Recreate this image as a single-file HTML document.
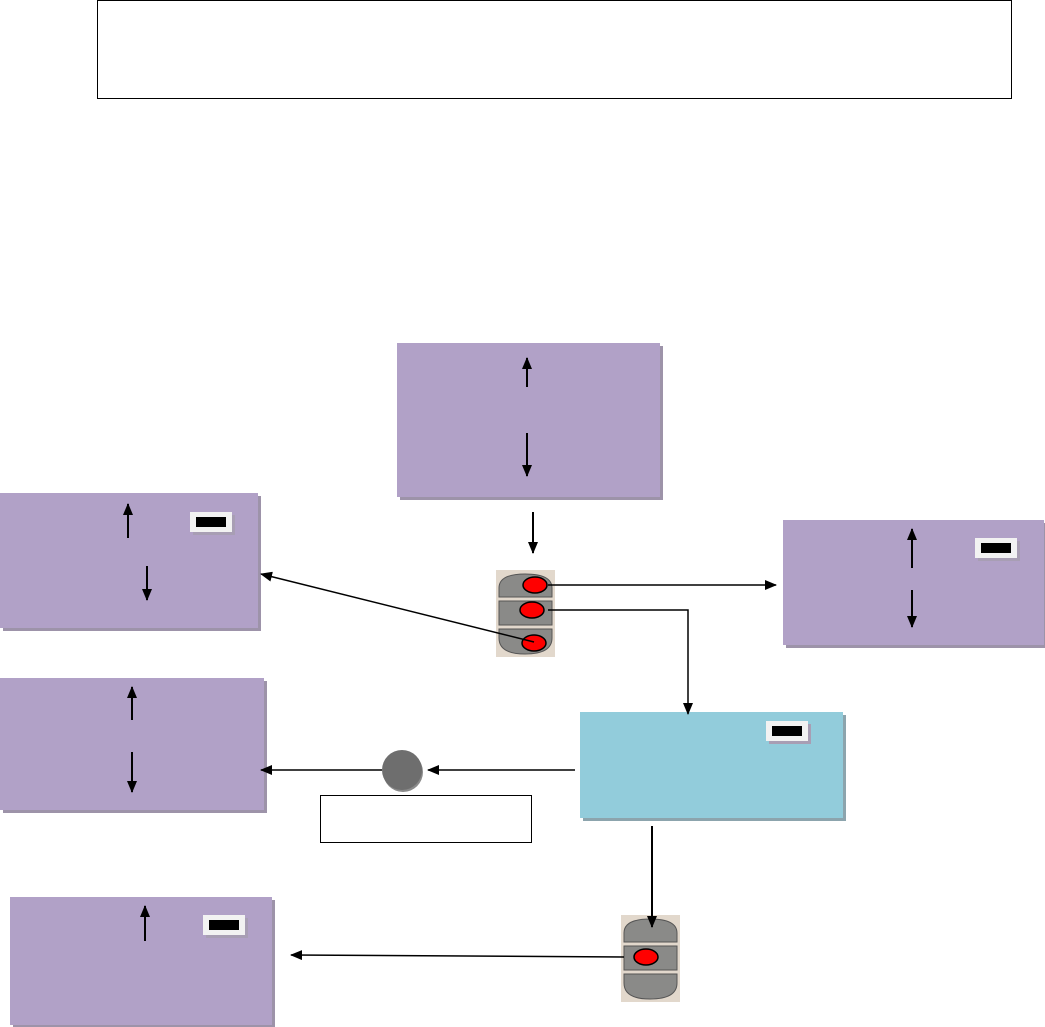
<!DOCTYPE html>
<html><head><meta charset="utf-8"><style>
html,body{margin:0;padding:0;background:#fff;}
svg{display:block;}
</style></head><body>
<svg width="1045" height="1027" viewBox="0 0 1045 1027" xmlns="http://www.w3.org/2000/svg">
<defs>
<marker id="ah" markerWidth="12" markerHeight="10" refX="11" refY="5" orient="auto" markerUnits="userSpaceOnUse">
<path d="M0,0 L12,5 L0,10 Z" fill="#000"/></marker>
<g id="btn"><rect x="3" y="3" width="42" height="20" fill="#a89eb4"/><rect x="0" y="0" width="42" height="20" fill="#f2f2f2"/><rect x="6" y="5" width="30" height="10" fill="#000"/></g>
<g id="rem3">
<rect x="0" y="0" width="59" height="87" fill="#e2d8cc"/>
<path d="M3,27 L3,18 Q3,4 29,4 Q56,4 56,18 L56,27 Z" fill="#8a8a88" stroke="#555" stroke-width="1"/>
<rect x="3" y="31" width="53" height="24" fill="#8a8a88" stroke="#555" stroke-width="1"/>
<path d="M3,59 L56,59 L56,68 Q56,84 29,84 Q3,84 3,68 Z" fill="#8a8a88" stroke="#555" stroke-width="1"/>
</g>
</defs>
<rect x="97.5" y="0.5" width="914" height="98" fill="none" stroke="#000" stroke-width="1"/>

<rect x="400" y="346" width="263" height="154" fill="#9d93a9"/>
<rect x="397" y="343" width="263" height="154" fill="#b1a1c7"/>
<line x1="527" y1="387" x2="527" y2="358" stroke="#000" stroke-width="2" marker-end="url(#ah)"/>
<line x1="527" y1="433" x2="527" y2="476" stroke="#000" stroke-width="2" marker-end="url(#ah)"/>

<rect x="3" y="496" width="258" height="135" fill="#9d93a9"/>
<rect x="0" y="493" width="258" height="135" fill="#b1a1c7"/>
<line x1="128" y1="538" x2="128" y2="504" stroke="#000" stroke-width="2" marker-end="url(#ah)"/>
<line x1="147" y1="566" x2="147" y2="600" stroke="#000" stroke-width="2" marker-end="url(#ah)"/>
<use href="#btn" x="190" y="512"/>

<rect x="786" y="523" width="259" height="125" fill="#9d93a9"/>
<rect x="783" y="520" width="261" height="125" fill="#b1a1c7"/>
<line x1="912" y1="568" x2="912" y2="529" stroke="#000" stroke-width="2" marker-end="url(#ah)"/>
<line x1="912" y1="590" x2="912" y2="627" stroke="#000" stroke-width="2" marker-end="url(#ah)"/>
<use href="#btn" x="975" y="538"/>

<rect x="3" y="681" width="264" height="132" fill="#9d93a9"/>
<rect x="0" y="678" width="264" height="132" fill="#b1a1c7"/>
<line x1="132" y1="720" x2="132" y2="687" stroke="#000" stroke-width="2" marker-end="url(#ah)"/>
<line x1="132" y1="752" x2="132" y2="792" stroke="#000" stroke-width="2" marker-end="url(#ah)"/>

<rect x="13" y="900" width="262" height="127" fill="#9d93a9"/>
<rect x="10" y="897" width="262" height="128" fill="#b1a1c7"/>
<line x1="145" y1="941" x2="145" y2="906" stroke="#000" stroke-width="2" marker-end="url(#ah)"/>
<use href="#btn" x="203" y="915"/>

<rect x="583" y="715" width="263" height="106" fill="#8ca4ad"/>
<rect x="580" y="712" width="263" height="106" fill="#92ccdb"/>
<use href="#btn" x="766" y="721"/>

<use href="#rem3" x="496" y="570"/>
<ellipse cx="535" cy="585" rx="12" ry="8" fill="#f00" stroke="#000" stroke-width="1.5"/>
<ellipse cx="532" cy="610" rx="12" ry="8" fill="#f00" stroke="#000" stroke-width="1.5"/>
<ellipse cx="534" cy="643" rx="12" ry="8" fill="#f00" stroke="#000" stroke-width="1.5"/>

<use href="#rem3" x="621" y="915"/>
<ellipse cx="646" cy="957" rx="12" ry="8" fill="#f00" stroke="#000" stroke-width="1.5"/>

<circle cx="403" cy="772" r="20" fill="#8a8a8a"/>
<circle cx="402" cy="770" r="20" fill="#6e6e6e"/>
<rect x="320.5" y="795.5" width="211" height="47" fill="#fff" stroke="#000" stroke-width="1"/>

<line x1="533" y1="512" x2="533" y2="553" stroke="#000" stroke-width="2" marker-end="url(#ah)"/>
<line x1="548" y1="585" x2="776" y2="585" stroke="#000" stroke-width="1.5" marker-end="url(#ah)"/>
<polyline points="548,610 688,610 688,714" fill="none" stroke="#000" stroke-width="1.5" marker-end="url(#ah)"/>
<line x1="534" y1="642" x2="261" y2="574" stroke="#000" stroke-width="1.5" marker-end="url(#ah)"/>
<line x1="575" y1="770" x2="428" y2="770" stroke="#000" stroke-width="1.5" marker-end="url(#ah)"/>
<line x1="382" y1="770" x2="261" y2="770" stroke="#000" stroke-width="1.5" marker-end="url(#ah)"/>
<line x1="652" y1="826" x2="652" y2="927" stroke="#000" stroke-width="2" marker-end="url(#ah)"/>
<line x1="624" y1="957" x2="291" y2="955" stroke="#000" stroke-width="1.5" marker-end="url(#ah)"/>
</svg>
</body></html>
